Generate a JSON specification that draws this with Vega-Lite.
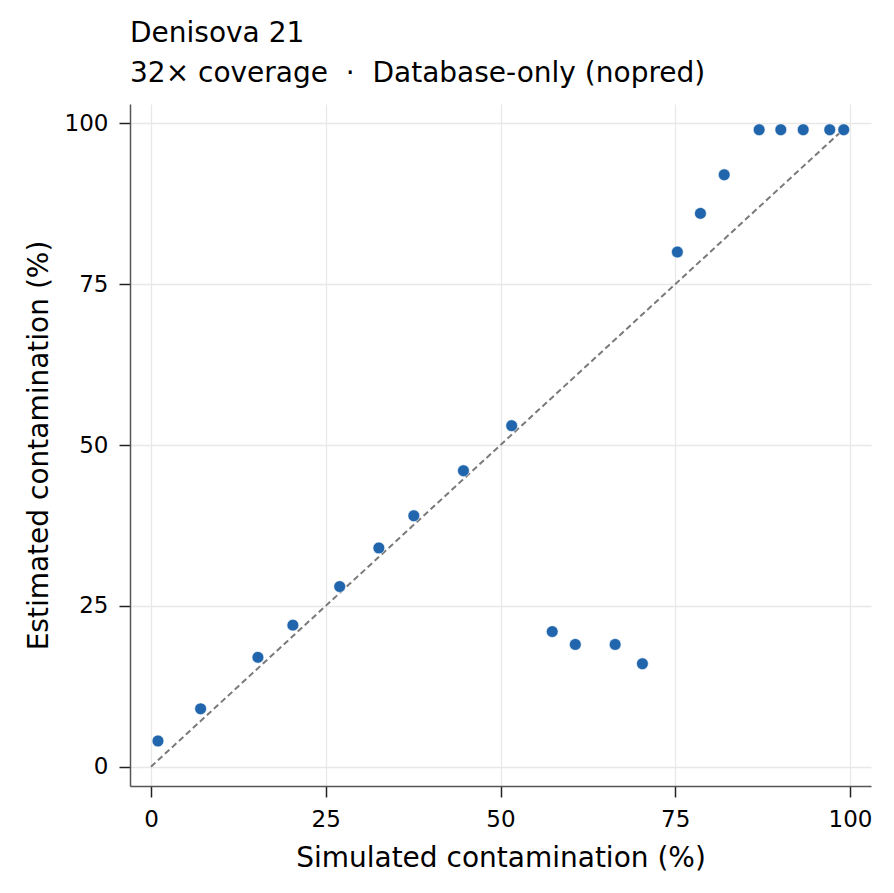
{
  "$schema": "https://vega.github.io/schema/vega-lite/v6.json",
  "autosize": {"type": "none"},
  "padding": {"left": 130, "top": 104, "right": 23, "bottom": 107},
  "width": 741,
  "height": 682,
  "background": "white",
  "config": {
    "font": "DejaVu Sans",
    "view": {"stroke": null},
    "axis": {
      "labelFont": "DejaVu Sans",
      "titleFont": "DejaVu Sans",
      "labelFontSize": 23,
      "titleFontSize": 28,
      "titleFontWeight": "normal",
      "labelColor": "#000000",
      "titleColor": "#000000",
      "domainColor": "#555555",
      "domainWidth": 1.5,
      "tickColor": "#222222",
      "tickWidth": 1.5,
      "tickSize": 11,
      "labelPadding": 11,
      "gridColor": "#e8e8e8",
      "gridWidth": 1.3
    },
    "title": {
      "font": "DejaVu Sans",
      "fontSize": 28,
      "fontWeight": "normal",
      "subtitleFont": "DejaVu Sans",
      "subtitleFontSize": 28,
      "subtitleColor": "#000000",
      "color": "#000000",
      "anchor": "start",
      "frame": "group",
      "offset": 16,
      "subtitlePadding": 12
    }
  },
  "title": {"text": "Denisova 21", "subtitle": "32× coverage\u00a0\u00a0·\u00a0\u00a0Database-only (nopred)"},
  "datasets": {
    "points": [
      {"simulated": 1.0, "estimated": 4},
      {"simulated": 7.1, "estimated": 9},
      {"simulated": 15.3, "estimated": 17},
      {"simulated": 20.3, "estimated": 22},
      {"simulated": 27.0, "estimated": 28},
      {"simulated": 32.6, "estimated": 34},
      {"simulated": 37.6, "estimated": 39},
      {"simulated": 44.7, "estimated": 46},
      {"simulated": 51.6, "estimated": 53},
      {"simulated": 57.4, "estimated": 21},
      {"simulated": 60.7, "estimated": 19},
      {"simulated": 66.4, "estimated": 19},
      {"simulated": 70.3, "estimated": 16},
      {"simulated": 75.3, "estimated": 80},
      {"simulated": 78.6, "estimated": 86},
      {"simulated": 82.0, "estimated": 92},
      {"simulated": 87.0, "estimated": 99},
      {"simulated": 90.1, "estimated": 99},
      {"simulated": 93.3, "estimated": 99},
      {"simulated": 97.1, "estimated": 99},
      {"simulated": 99.1, "estimated": 99}
    ],
    "diag": [
      {"simulated": 0, "estimated": 0},
      {"simulated": 100, "estimated": 100}
    ]
  },
  "layer": [
    {
      "data": {"name": "diag"},
      "mark": {"type": "line", "color": "#7a7a7a", "strokeWidth": 2, "strokeDash": [6, 3.5], "clip": true},
      "encoding": {
        "x": {"field": "simulated", "type": "quantitative", "scale": {"domain": [-3, 103], "nice": false, "zero": false},
          "axis": {"values": [0, 25, 50, 75, 100], "title": "Simulated contamination (%)", "titlePadding": 13}},
        "y": {"field": "estimated", "type": "quantitative", "scale": {"domain": [-3, 103], "nice": false, "zero": false},
          "axis": {"values": [0, 25, 50, 75, 100], "title": "Estimated contamination (%)", "titlePadding": 11}}
      }
    },
    {
      "data": {"name": "points"},
      "mark": {"type": "point", "filled": true, "size": 140, "color": "#2166ac", "opacity": 1, "stroke": "white", "strokeWidth": 0.6},
      "encoding": {
        "x": {"field": "simulated", "type": "quantitative"},
        "y": {"field": "estimated", "type": "quantitative"}
      }
    }
  ]
}
